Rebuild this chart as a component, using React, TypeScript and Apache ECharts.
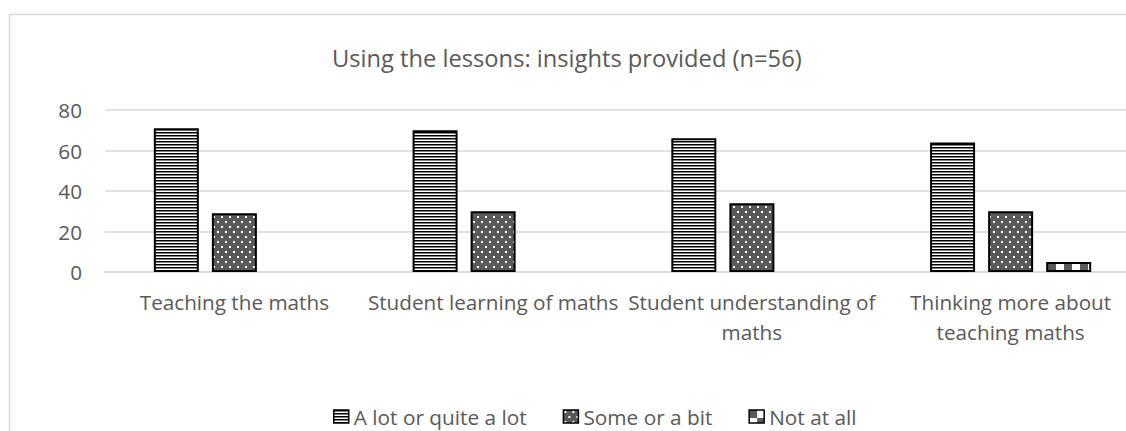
import React, { useEffect, useRef } from 'react';
import * as echarts from 'echarts';

const TITLE = 'Using the lessons: insights provided (n=56)';
const categories = [
  'Teaching the maths',
  'Student learning of maths',
  'Student understanding of\nmaths',
  'Thinking more about\nteaching maths',
];
const seriesNames = ['A lot or quite a lot', 'Some or a bit', 'Not at all'];
const aLot = [71, 70, 66, 64];
const someBit = [29, 30, 34, 30];
const notAtAll = [0, 0, 0, 5];
const yTicks = [0, 20, 40, 60, 80];

const FONT = '"Open Sans", sans-serif';
const TEXT = '#595959';
const GRIDC = '#d9d9d9';

function pattern(w: number, h: number, paint: (ctx: CanvasRenderingContext2D) => void) {
  const c = document.createElement('canvas');
  c.width = w;
  c.height = h;
  const ctx = c.getContext('2d')!;
  paint(ctx);
  return { image: c, repeat: 'repeat' } as any;
}

export default function App() {
  const ref = useRef<HTMLDivElement>(null);
  useEffect(() => {
    document.body.style.margin = '0';
    if (!ref.current) return;
    const chart = echarts.init(ref.current, null, { renderer: 'svg' });

    const stripes = pattern(4, 3, (ctx) => {
      ctx.fillStyle = '#ffffff';
      ctx.fillRect(0, 0, 4, 3);
      ctx.fillStyle = '#000000';
      ctx.fillRect(0, 0, 4, 1);
      ctx.fillStyle = '#808080';
      ctx.fillRect(0, 1, 4, 1);
    });
    const dots = pattern(8, 10, (ctx) => {
      ctx.fillStyle = '#595959';
      ctx.fillRect(0, 0, 8, 10);
      ctx.fillStyle = '#ffffff';
      ctx.fillRect(1, 1, 2, 2);
      ctx.fillRect(5, 6, 2, 2);
    });
    const checker = pattern(16, 16, (ctx) => {
      ctx.fillStyle = '#ffffff';
      ctx.fillRect(0, 0, 16, 16);
      ctx.fillStyle = '#595959';
      ctx.fillRect(0, 0, 8, 8);
      ctx.fillRect(8, 8, 8, 8);
    });
    const fills = [stripes, dots, checker];
    const values = [aLot, someBit, notAtAll];

    chart.setOption({
      animation: false,
      backgroundColor: '#ffffff',
      title: {
        text: TITLE,
        left: 327,
        top: 37.5,
        textStyle: { fontFamily: FONT, fontSize: 23.7, fontWeight: 'normal', color: TEXT, lineHeight: 30 },
      },
      legend: {
        data: seriesNames,
        left: 328,
        top: 401,
        itemWidth: 15,
        itemHeight: 13,
        itemGap: 36,
        icon: 'rect',
        itemStyle: { borderWidth: 1.5 },
        textStyle: { fontFamily: FONT, fontSize: 20.8, color: TEXT },
      },
      grid: { left: 105, top: 110, width: 1035, height: 162 },
      xAxis: {
        type: 'category',
        data: categories,
        axisLine: { lineStyle: { color: GRIDC, width: 1.5 } },
        axisTick: { show: false },
        axisLabel: {
          interval: 0,
          margin: 14.5,
          fontFamily: FONT,
          fontSize: 20.7,
          lineHeight: 30,
          color: TEXT,
          align: 'center',
        },
      },
      yAxis: {
        type: 'value',
        min: yTicks[0],
        max: yTicks[yTicks.length - 1],
        interval: yTicks[1] - yTicks[0],
        axisLine: { show: false },
        axisTick: { show: false },
        splitLine: { lineStyle: { color: GRIDC, width: 1.5 } },
        axisLabel: { margin: 23, fontFamily: FONT, fontSize: 20.7, color: TEXT },
      },
      series: seriesNames.map((name, i) => ({
        name,
        type: 'bar',
        barWidth: 45,
        barGap: '29%',
        data: values[i].map((v) => (v === 0 ? null : v)),
        itemStyle: { color: fills[i], borderColor: '#000000', borderWidth: 2 },
        emphasis: { disabled: true },
      })),
      graphic: [
        {
          type: 'rect',
          shape: { x: 9.5, y: 14.5, width: 1200, height: 500 },
          style: { fill: 'none', stroke: GRIDC, lineWidth: 1.5 },
          silent: true,
          z: -1,
        },
      ],
    });
    return () => chart.dispose();
  }, []);
  return (
    <div style={{ width: 1126, height: 431, overflow: 'hidden' }}>
      <div ref={ref} style={{ width: 1140, height: 431 }} />
    </div>
  );
}
